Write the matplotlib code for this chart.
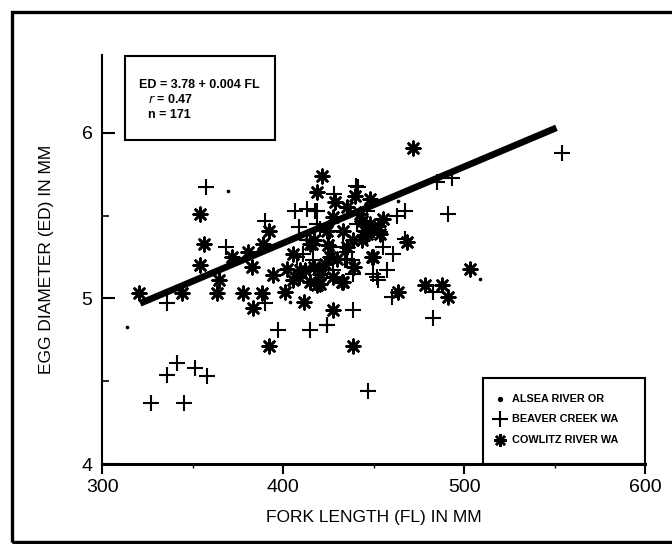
import matplotlib
matplotlib.use('Agg')
import matplotlib.pyplot as plt
from matplotlib.patches import Rectangle
from matplotlib.ticker import MultipleLocator

plt.rcParams.update({'font.family': ['Liberation Sans', 'DejaVu Sans'], 'font.size': 12})

# ---- data (FL mm, ED mm) ----
alsea_fl = [313.6, 369.4, 403.9, 463.7, 508.8]
alsea_ed = [4.83, 5.65, 4.98, 5.59, 5.12]

beaver_fl = [327, 345, 335.7, 341.3, 351.4, 357.8, 335.7, 357.5, 368.5, 390.2, 390, 406.6,
             408.5, 417.7, 428.3, 440.3, 397.4, 414.9, 424.5, 438.5, 435.2, 451.8, 416.6,
             554, 493.2, 485.2, 491.3, 441.6, 418.6, 467.4, 462.8, 467.4, 460.9, 457.2,
             452.6, 460, 483, 483, 424.1, 447.1, 437.9, 433.3, 426, 413.1, 418.6, 440.7,
             446.2, 438.8, 449.9, 427.8, 434.3, 407.6, 413.1, 420.4, 427.8, 435.2, 446.2,
             453.6, 455.4, 411.2, 422.3]
beaver_ed = [4.37, 4.37, 4.54, 4.61, 4.58, 4.53, 4.97, 5.67, 5.31, 5.47, 4.97, 5.53,
             5.43, 5.53, 5.63, 5.68, 4.81, 4.81, 4.84, 4.93, 5.24, 5.13, 5.23,
             5.88, 5.73, 5.70, 5.51, 5.67, 5.53, 5.53, 5.50, 5.36, 5.27, 5.17,
             5.11, 5.01, 5.04, 4.88, 4.84, 4.44, 5.23, 5.31, 5.41, 5.54, 5.45, 5.45,
             5.37, 5.15, 5.15, 5.17, 5.23, 5.25, 5.35, 5.42, 5.31, 5.28, 5.53,
             5.40, 5.31, 5.27, 5.17]

cowlitz_fl = [320.6, 354.1, 356.4, 353.8, 364.8, 363.4, 344, 371.6, 380.8, 382.7, 378, 388.2,
              383.2, 392.4, 389.1, 394.6, 401.1, 411.6, 392.4, 421.4, 418.9, 405.7, 402,
              408.5, 416.8, 420.4, 427.8, 432.4, 438.9, 438.5, 428.7, 439.8, 448.1, 449.9,
              471.6, 455.4, 449, 468.3, 503, 478.5, 487.6, 491, 463.7, 452.6, 415.9,
              414.9, 424.1, 425, 427.8, 433.3, 435.2, 442.5, 445.3, 448.1, 443.5, 429.6,
              423.2, 416.8, 409.4, 405.7, 414.9, 420.4, 435.2, 412.2, 426, 438.8, 443.5,
              446.2, 453.6, 427.8, 418.6, 433.3]
cowlitz_ed = [5.03, 5.51, 5.33, 5.20, 5.11, 5.03, 5.03, 5.25, 5.28, 5.19, 5.03, 5.03,
              4.94, 5.41, 5.33, 5.14, 5.04, 4.98, 4.71, 5.74, 5.64, 5.27, 5.18,
              5.13, 5.35, 5.09, 4.93, 5.10, 5.19, 4.71, 5.58, 5.62, 5.60, 5.25,
              5.91, 5.48, 5.25, 5.34, 5.18, 5.08, 5.08, 5.01, 5.04, 5.44, 5.33,
              5.33, 5.41, 5.32, 5.49, 5.41, 5.55, 5.51, 5.41, 5.45, 5.35, 5.24,
              5.21, 5.19, 5.17, 5.11, 5.10, 5.15, 5.31, 5.17, 5.25, 5.35, 5.47,
              5.39, 5.39, 5.13, 5.08, 5.10]

fit_fl = [321, 551]
fit_ed = [4.97, 6.03]

legend_labels = ['ALSEA RIVER OR', 'BEAVER CREEK WA', 'COWLITZ RIVER WA']
eq_lines = ['ED = 3.78 + 0.004 FL', '$\\it{r}$ = 0.47', 'n = 171']

fig = plt.figure(figsize=(6.72, 5.44), dpi=100)
ax = fig.add_axes([0.152, 0.147, 0.808, 0.752])

ax.scatter(alsea_fl, alsea_ed, s=7, color='black', marker='o', linewidths=0)
ax.scatter(beaver_fl, beaver_ed, s=120, color='black', marker='+', linewidths=1.5)
ax.scatter(cowlitz_fl, cowlitz_ed, s=95, color='black', marker=(8, 2, 0), linewidths=1.9)
ax.plot(fit_fl, fit_ed, color='black', lw=4.8, solid_capstyle='butt')

ax.set_xlim(300, 600)
ax.set_ylim(4, 6.47)
ax.set_xticks([300, 400, 500, 600])
ax.set_yticks([4, 5, 6])
ax.xaxis.set_minor_locator(MultipleLocator(50))
ax.yaxis.set_minor_locator(MultipleLocator(0.5))
ax.tick_params(axis='y', which='major', direction='in', length=9, width=1.5, labelsize=14, pad=7)
ax.tick_params(axis='y', which='minor', direction='in', length=5, width=1.2)
ax.tick_params(axis='x', which='major', direction='out', length=7, width=1.5, labelsize=14, pad=4)
ax.tick_params(axis='x', which='minor', direction='out', length=3, width=1.0)
for s in ['top', 'right']:
    ax.spines[s].set_visible(False)
ax.spines['left'].set_linewidth(1.5)
ax.spines['bottom'].set_linewidth(2.2)

ax.set_xlabel('FORK LENGTH (FL) IN MM', fontsize=12.5, labelpad=10)
ax.set_ylabel('EGG DIAMETER (ED) IN MM', fontsize=12.5, labelpad=20)

# equation box
ax.add_patch(Rectangle((0.042, 0.792), 0.277, 0.206, transform=ax.transAxes,
                       fill=False, lw=1.5, ec='black', clip_on=False))
ax.text(0.068, 0.927, eq_lines[0], transform=ax.transAxes, fontsize=9, fontweight='bold', va='center')
ax.text(0.085, 0.890, eq_lines[1], transform=ax.transAxes, fontsize=9, fontweight='bold', va='center')
ax.text(0.085, 0.853, eq_lines[2], transform=ax.transAxes, fontsize=9, fontweight='bold', va='center')

# legend box
ax.add_patch(Rectangle((0.702, 0.0), 0.298, 0.210, transform=ax.transAxes,
                       fill=False, lw=1.5, ec='black', clip_on=False))
leg_y = [0.159, 0.110, 0.059]
ax.plot([0.733], [leg_y[0]], 'o', ms=2.8, color='black', transform=ax.transAxes, clip_on=False)
ax.plot([0.733], [leg_y[1]], '+', ms=11, mew=1.5, color='black', transform=ax.transAxes, clip_on=False)
ax.plot([0.733], [leg_y[2]], marker=(8, 2, 0), ms=9, mew=1.8, color='black',
        transform=ax.transAxes, clip_on=False)
for yy, lab in zip(leg_y, legend_labels):
    ax.text(0.754, yy, lab, transform=ax.transAxes, fontsize=7.8, fontweight='bold', va='center')

# outer frame of the scanned page
fig.patches.append(Rectangle((0.018, 0.003), 1.2, 0.975, transform=fig.transFigure,
                             fill=False, lw=2.4, ec='black'))

fig.savefig('out.png', dpi=100)
